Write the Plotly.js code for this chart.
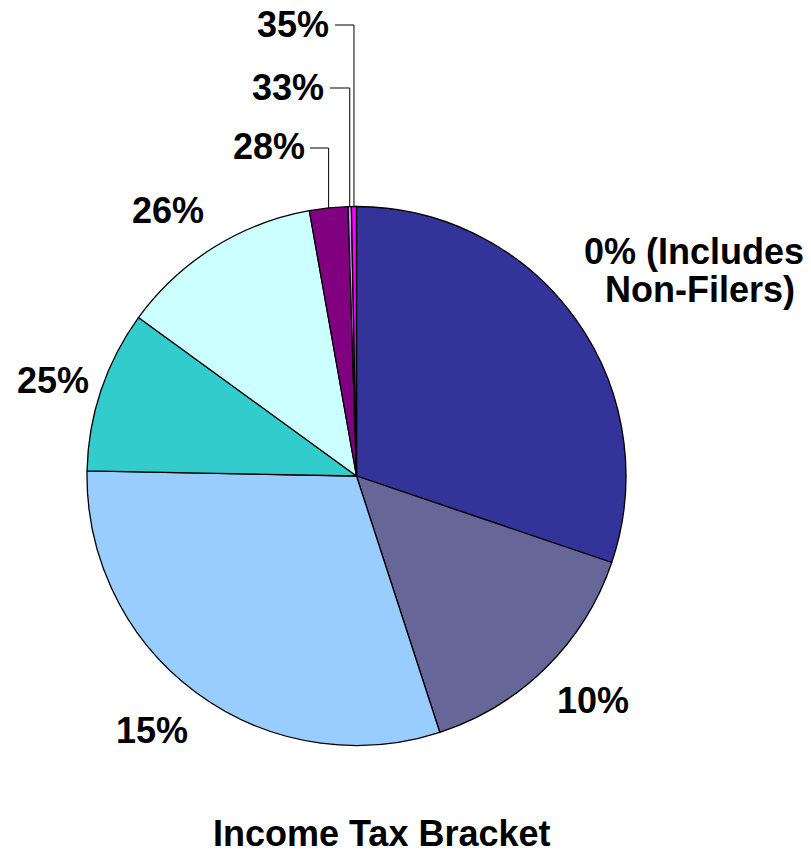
<!DOCTYPE html>
<html><head><meta charset="utf-8">
<script src="https://cdn.plot.ly/plotly-3.0.1.min.js"></script>
<style>html,body{margin:0;padding:0;background:#fff}#chart{width:811px;height:854px}</style>
</head><body><div id="chart"></div>
<script>
// ---- data ----
const brackets = ['0% (Includes Non-Filers)', '10%', '15%', '25%', '26%', '28%', '33%', '35%'];
const shares = [30.2, 14.8, 30.3, 9.7, 12.2, 2.3, 0.2, 0.3];
const sliceColors = ['#333399', '#666699', '#99CCFF', '#33CCCC', '#CCFFFF', '#800080', '#CC99FF', '#FF00FF'];
const labelLines = [['0% (Includes', 'Non-Filers)'], ['10%'], ['15%'], ['25%'], ['26%'], ['28%'], ['33%'], ['35%']];
const chartTitle = 'Income Tax Bracket';

// ---- layout geometry (pixels) ----
const W = 811, H = 854, CX = 356.5, CY = 476, R = 269.5;
const px = x => x / W, py = y => 1 - y / H;
const FONT = {family: 'Arial, "Liberation Sans", sans-serif', size: 36, color: '#000', weight: 'bold'};
// label centers, one entry per label line
const labelPos = [[[694, 251], [700, 290]], [[593, 700]], [[152, 730]], [[53, 380]], [[168, 210]], [[269, 147]], [[288, 87]], [[293, 24]]];
// leader lines: slice index -> start x of horizontal segment
const leaders = [[5, 310], [6, 330], [7, 335]];

const total = shares.reduce((a, b) => a + b, 0);
const midAngle = [];
let acc = 0;
shares.forEach(v => { midAngle.push((acc + v / 2) / total * 2 * Math.PI); acc += v; });

const annotations = [];
labelLines.forEach((lines, i) => lines.forEach((t, j) => {
  annotations.push({text: t, x: px(labelPos[i][j][0]), y: py(labelPos[i][j][1]), xref: 'paper', yref: 'paper',
    xanchor: 'center', yanchor: 'middle', showarrow: false, font: FONT});
}));
annotations.push({text: chartTitle, x: px(381), y: py(833), xref: 'paper', yref: 'paper',
  xanchor: 'center', yanchor: 'middle', showarrow: false, font: FONT});

const shapes = leaders.map(([i, sx]) => {
  const a = midAngle[i];
  const ex = CX + R * Math.sin(a), ey = CY - R * Math.cos(a);
  const ly = labelPos[i][0][1] + 1;
  return {type: 'path', xref: 'paper', yref: 'paper',
    path: `M ${px(sx)} ${py(ly)} L ${px(ex)} ${py(ly)} L ${px(ex)} ${py(ey)}`,
    line: {color: '#000', width: 1}};
});

Plotly.newPlot('chart', [{
  type: 'pie', labels: brackets, values: shares, sort: false, direction: 'clockwise', rotation: 0,
  marker: {colors: sliceColors, line: {color: '#000', width: 1.3}},
  textinfo: 'none', hoverinfo: 'label+percent',
  domain: {x: [px(CX - R), px(CX + R)], y: [py(CY + R), py(CY - R)]}
}], {
  width: W, height: H, margin: {l: 0, r: 0, t: 0, b: 0}, showlegend: false,
  paper_bgcolor: '#fff', plot_bgcolor: '#fff', annotations, shapes
}, {displayModeBar: false, staticPlot: true});
</script></body></html>
